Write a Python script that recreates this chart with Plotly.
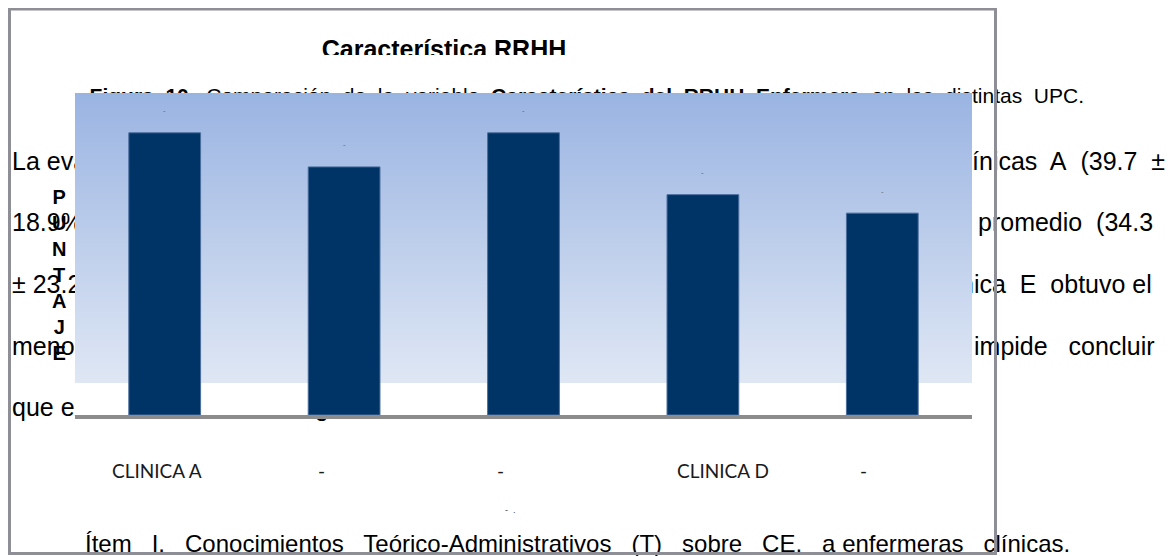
import plotly.graph_objects as go

W, H = 1174, 556
OFF = 8                      # the page body keeps an 8 px margin
FW, FH = W - OFF, H - OFF

# chart data
clinicas = ["CLINICA A", "CLINICA B", "CLINICA C", "CLINICA D", "CLINICA E"]
puntaje = [39.7, 34.9, 39.7, 31.0, 28.4]
tick_labels = ["CLINICA A", "-", "-", "CLINICA D", "-"]
label_shift = [-8, -23, -23, 20, -19]   # labels sit off-centre in the original

# document text around the chart (page of the report)
NB = "\u00a0"
titulo = "Característica RRHH"
figura = ("<b>Figura 10.</b> Comparación de la variable <b>Característica del RRHH "
          "Enfermera</b> en las distintas UPC.")
texto_izq = ["La evaluación", "18.9%)", "± 23.2%)", "menor",
             "que exista una diferencia significativa entre ellas."]
texto_der = [f"clínicas{NB} A{NB} (39.7{NB} ±", f"promedio{NB} (34.3",
             f"nica{NB} E{NB} obtuvo el", f"impide{NB}{NB} concluir"]
item = (f"Ítem{NB}{NB} I.{NB}{NB} Conocimientos{NB}{NB} Teórico-Administrativos{NB}{NB} "
        f"(T){NB}{NB} sobre{NB}{NB} CE,{NB}{NB} a enfermeras{NB}{NB} clínicas.")

renglones = [172, 233, 295, 357, 418]
inicio_der = [954, 978, 960, 974]

FONT = "Liberation Sans, Arial, sans-serif"


def dom_x(x0, x1):
    return [max(x0 - OFF, 0) / FW, (x1 - OFF) / FW]


def dom_y(y0, y1):
    return [1 - (y1 - OFF) / FH, 1 - max(y0 - OFF, 0) / FH]


def px(x, y):
    return (x - OFF) / FW, 1 - (y - OFF) / FH


layout_axes = {}


def px_subplot(n, x0, x1, y0, y1):
    # subplot in pixel units, used to clip text the way the page does
    x0, y0 = max(x0, OFF), max(y0, OFF)
    sx = "" if n == 1 else str(n)
    layout_axes["xaxis" + sx] = dict(domain=dom_x(x0, x1), range=[x0, x1], visible=False,
                                     anchor="y" + sx, fixedrange=True)
    layout_axes["yaxis" + sx] = dict(domain=dom_y(y0, y1), range=[y1, y0], visible=False,
                                     anchor="x" + sx, fixedrange=True)
    return "x" + sx, "y" + sx


fig = go.Figure()

# gradient of the plot area
layout_axes["xaxis"] = dict(domain=dom_x(75, 972), range=[0, 1], visible=False, anchor="y")
layout_axes["yaxis"] = dict(domain=dom_y(93, 383), range=[0, 1], visible=False, anchor="x")
fig.add_trace(go.Heatmap(z=[[0, 0], [1, 1]], x=[0, 1], y=[0, 1], zsmooth="best",
                         colorscale=[[0, "#dfe7f4"], [1, "#9ab4e2"]], showscale=False,
                         hoverinfo="skip", xaxis="x", yaxis="y"))

# bars
fig.add_trace(go.Bar(x=clinicas, y=puntaje, width=0.4,
                     marker=dict(color="#003366", line=dict(color="#4a6d9c", width=1)),
                     xaxis="x2", yaxis="y2", hoverinfo="x+y", showlegend=False))
layout_axes["xaxis2"] = dict(domain=dom_x(75, 972), anchor="y2", type="category",
                             showline=True, linecolor="#8c8c8c", linewidth=4,
                             showgrid=False, ticks="", showticklabels=False)
layout_axes["yaxis2"] = dict(domain=dom_y(93, 415), range=[0, 45.3], visible=False,
                             anchor="x2")


def texto(ax, x, base, txt, size, pos, bold=False):
    t = f"<b>{txt}</b>" if bold else txt
    fig.add_trace(go.Scatter(x=[x], y=[base - 0.35 * size], mode="text", text=[t],
                             textposition=pos, cliponaxis=True, hoverinfo="skip",
                             showlegend=False, xaxis=ax[0], yaxis=ax[1],
                             textfont=dict(family=FONT, size=size, color="black")))


# title, cut off at its lower half
ax = px_subplot(3, 0, W, 0, 55)
texto(ax, 444, 60, titulo, 25, "middle center", bold=True)

# caption line (justified in the page), hidden by the plot area except its top
figura_j = figura.replace(" ", NB + " ")
ax = px_subplot(4, 0, 972, 0, 93)
texto(ax, 1084, 105, figura_j, 21, "middle left")

# right column of the page
ax = px_subplot(5, 972, W, 0, H)
texto(ax, 1084, 105, figura_j, 21, "middle left")
for txt, x0, base in zip(texto_der, inicio_der, renglones):
    texto(ax, x0, base, txt, 25, "middle right")

# left column of the page
ax = px_subplot(6, 0, 75, 0, H)
for txt, base in zip(texto_izq, renglones):
    texto(ax, 12, base, txt, 25, "middle right")

# descenders showing under the axis line
ax = px_subplot(7, 75, 972, 419, 440)
texto(ax, 12, renglones[-1], texto_izq[-1], 25, "middle right")

# last line of the page
ax = px_subplot(8, 0, W, 440, H)
texto(ax, 85, 554, item, 24, "middle right")

# data labels (rendered as small dashes in the original)
annotations = [dict(x=c, y=v, xref="x2", yref="y2", text="-", showarrow=False, yshift=22,
                    font=dict(family=FONT, size=8, color="#666666"))
               for c, v in zip(clinicas, puntaje)]

# category labels
_, lab_y = px(0, 470)
for c, t, s in zip(clinicas, tick_labels, label_shift):
    annotations.append(dict(x=c, y=lab_y, xref="x2", yref="paper", text=t, xshift=s,
                            showarrow=False, xanchor="center", yanchor="middle",
                            font=dict(family="Lato, Open Sans, sans-serif", size=19,
                                      color="#1a1a1a")))

ax_x, ax_y = px(59, 275)
annotations.append(dict(x=ax_x, y=ax_y, xref="paper", yref="paper",
                        xanchor="center", yanchor="middle",
                        text="<br>".join(f"<b>{c}</b>" for c in "PUNTAJE"),
                        showarrow=False, font=dict(family=FONT, size=20, color="black")))
tx, ty = px(510, 510)
annotations.append(dict(x=tx, y=ty, xref="paper", yref="paper", text="-  .",
                        xanchor="center", yanchor="middle",
                        showarrow=False, font=dict(family=FONT, size=9, color="#444444")))

fx0, fy0 = px(9.5, 553.5)
fx1, fy1 = px(995.5, 9)
fig.update_layout(
    width=FW, height=FH,
    margin=dict(l=0, r=0, t=0, b=0),
    paper_bgcolor="white", plot_bgcolor="rgba(0,0,0,0)",
    showlegend=False,
    annotations=annotations,
    shapes=[dict(type="rect", xref="paper", yref="paper",
                 x0=fx0, x1=fx1, y0=fy0, y1=fy1,
                 line=dict(color="#8e8e96", width=3), layer="above")],
    **layout_axes,
)

fig.write_html("out.html")
